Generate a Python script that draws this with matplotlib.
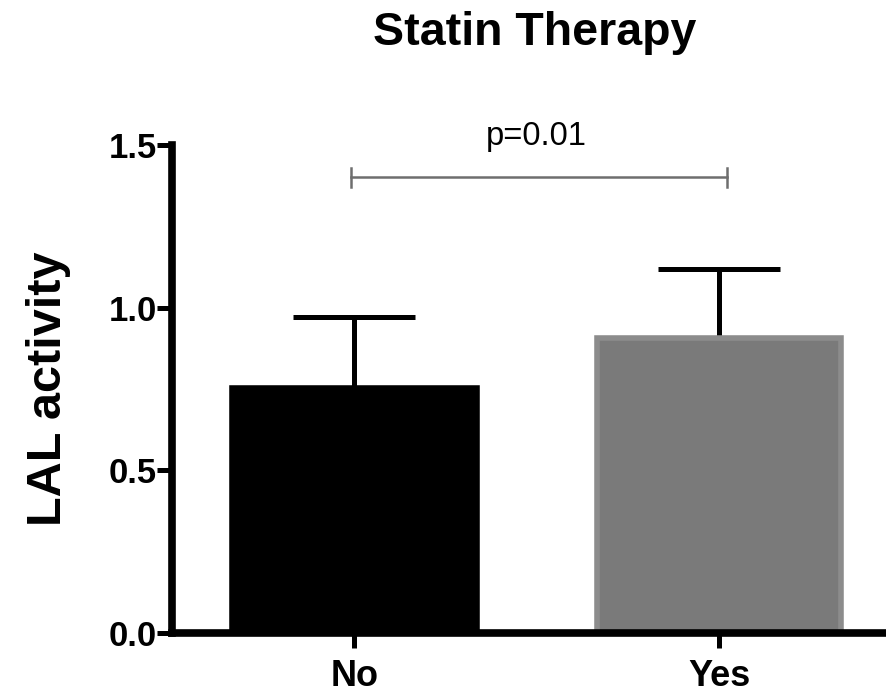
import matplotlib
matplotlib.use('Agg')
import matplotlib.pyplot as plt

plt.rcParams['font.family'] = ['Liberation Sans', 'DejaVu Sans']

groups = ['No', 'Yes']
means = [0.753, 0.905]
errors = [0.218, 0.214]
bar_colors = ['#000000', '#7a7a7a']
edge_colors = ['#000000', '#8c8c8c']
p_label = 'p=0.01'
bracket_y = 1.4

fig = plt.figure(figsize=(8.87, 6.93), dpi=100)
ax = fig.add_axes([0.194, 0.0866, 0.806, 0.7044])

x = list(range(len(groups)))
ax.bar(x, means, width=0.67, color=bar_colors, edgecolor=edge_colors,
       linewidth=4, zorder=2)
ax.errorbar(x, means, yerr=[[0] * len(errors), errors], fmt='none',
            ecolor='black', elinewidth=3.6, capsize=44, capthick=3.6, zorder=1)

# significance bracket
ax.plot([-0.01, 1.02], [bracket_y, bracket_y], color='#6e6e6e', lw=1.8, clip_on=False, zorder=3)
for xb in [-0.01, 1.02]:
    ax.plot([xb, xb], [bracket_y - 0.03, bracket_y + 0.03], color='#6e6e6e', lw=1.8,
            clip_on=False, zorder=3)
ax.text(0.5, 1.5, p_label, ha='center', va='baseline', fontsize=23.5)

ax.set_xlim(-0.5, 1.46)
ax.set_ylim(0, 1.5)
ax.set_yticks([0, 0.5, 1.0, 1.5])
ax.set_yticklabels(['0.0', '0.5', '1.0', '1.5'])
ax.set_xticks(x)
ax.set_xticklabels(groups)

for s in ['top', 'right']:
    ax.spines[s].set_visible(False)
for s in ['left', 'bottom']:
    ax.spines[s].set_linewidth(5.5)
ax.tick_params(axis='both', length=11, width=3.6, pad=0)
ax.tick_params(axis='y', labelsize=25)
ax.tick_params(axis='x', labelsize=26, pad=8)
for lab in ax.get_xticklabels() + ax.get_yticklabels():
    lab.set_fontweight('bold')

ax.set_ylabel('LAL activity', fontsize=35, fontweight='bold', labelpad=27)
fig.text(0.603, 0.935, 'Statin Therapy', ha='center', va='baseline',
         fontsize=33.5, fontweight='bold')

plt.savefig('out.png', dpi=100)
